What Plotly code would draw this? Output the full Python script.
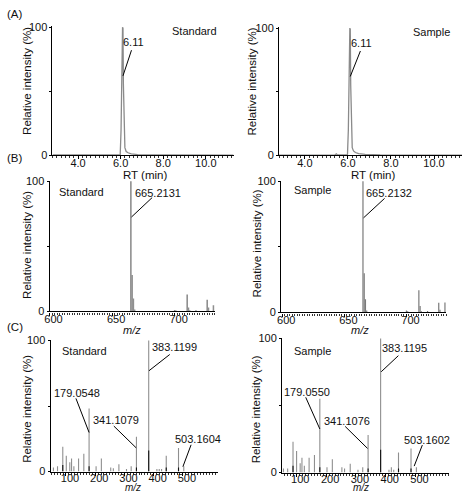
import plotly.graph_objects as go

# ---------------- data ----------------
# (A) extracted ion chromatograms
rt_std = [2.8, 4.5, 5.9, 5.98, 6.02, 6.06, 6.09, 6.11, 6.13, 6.16, 6.2, 6.26, 6.35, 6.5, 6.8, 7.5, 9.0, 11.3]
int_std = [0.3, 0.4, 0.3, 0.6, 20, 75, 100, 99, 55, 18, 6, 3, 2, 1.2, 0.6, 0.4, 0.3, 0.2]
rt_smp = [2.8, 4.5, 5.4, 5.46, 5.52, 5.9, 5.98, 6.02, 6.06, 6.09, 6.11, 6.13, 6.16, 6.2, 6.26, 6.35, 6.5, 6.8, 7.5, 9.0, 11.3]
int_smp = [0.2, 0.3, 0.3, 1.2, 0.3, 0.3, 0.6, 20, 75, 100, 99, 55, 18, 6, 3.5, 2.2, 1.3, 0.7, 0.4, 0.3, 0.2]

# (B) MS spectra (precursor region)
mz_B = [665, 666, 667, 668, 700, 701, 710, 711, 712, 717, 726, 727, 731]
std_B = [100, 28, 10, 1.5, 1.2, 0.8, 13, 3, 1, 1, 9, 3, 4.7]
smp_B = [100, 30, 10, 1.5, 1.5, 1.0, 17, 5, 1, 1.2, 7.4, 2, 7.6]

# (C) MS/MS spectra
mz_C = [57, 71, 89, 101, 113, 119, 127, 143, 161, 179, 203, 221, 253, 262, 281, 307, 323, 341, 383, 411, 419, 427, 443, 485, 503]
std_C = [3, 4, 19, 12, 7, 10, 4, 10, 13.5, 48, 4, 10, 3, 2.5, 5.5, 2, 4, 26.5, 100, 2, 2, 2, 12, 18, 4]
smp_C = [3, 3, 23, 16, 7, 11, 5, 11, 13, 55, 4, 10, 4, 3, 6.5, 2, 4, 28, 100, 2, 4, 2, 15, 18, 4]
# darker low-level overlay sticks
mz_C_dark = [89, 179, 341, 383, 443, 485]
std_C_dark = [5, 4, 3, 16, 3, 3]
smp_C_dark = [5, 4, 3, 17, 3, 3]

rt_ticks = [4, 6, 8, 10]
rt_ticktext = ["4.0", "6.0", "8.0", "10.0"]
mzB_ticks = [600, 650, 700]
mzC_ticks = [100, 200, 300, 400, 500]

FONT = "Liberation Sans, Arial, sans-serif"
W, H = 464, 500

fig = go.Figure()

def sticks(mz, inten):
    xs, ys = [], []
    for m, i in zip(mz, inten):
        xs += [m, m, None]
        ys += [0, i, None]
    return xs, ys

def add_sticks(mz, inten, n, color, width):
    xs, ys = sticks(mz, inten)
    fig.add_trace(go.Scatter(x=xs, y=ys, mode="lines", line=dict(color=color, width=width),
                             xaxis="x" + ("" if n == 1 else str(n)),
                             yaxis="y" + ("" if n == 1 else str(n)),
                             hoverinfo="skip", showlegend=False))

# A
fig.add_trace(go.Scatter(x=rt_std, y=int_std, mode="lines", line=dict(color="#8a8a8a", width=1.3),
                         xaxis="x", yaxis="y", showlegend=False))
fig.add_trace(go.Scatter(x=rt_smp, y=int_smp, mode="lines", line=dict(color="#8a8a8a", width=1.3),
                         xaxis="x2", yaxis="y2", showlegend=False))
# B
add_sticks(mz_B, std_B, 3, "#8f8f8f", 1.6)
add_sticks(mz_B, smp_B, 4, "#7a7a7a", 1.2)
# C
add_sticks(mz_C, std_C, 5, "#8f8f8f", 1.1)
add_sticks(mz_C, smp_C, 6, "#8f8f8f", 1.1)
add_sticks(mz_C_dark, std_C_dark, 5, "#111111", 1.1)
add_sticks(mz_C_dark, smp_C_dark, 6, "#111111", 1.1)

def px_dom_x(a, b):
    return [a / W, b / W]

def px_dom_y(top, bottom):
    return [1 - bottom / H, 1 - top / H]

xbase = dict(showline=True, linecolor="black", linewidth=1.2, ticks="outside", ticklen=3,
             tickcolor="black", showgrid=False, zeroline=False, ticklabelstandoff=-6,
             tickfont=dict(family=FONT, size=11, color="#111"))
ybase = dict(showline=True, linecolor="black", linewidth=1, ticks="outside", ticklen=2,
             tickcolor="black", showgrid=False, zeroline=False, range=[0, 100.5],
             tickvals=[0, 50, 100], ticktext=["0", "", "100"],
             tickfont=dict(family=FONT, size=11, color="#111"))

def xa(dom, rng, anchor, tickvals, ticktext, mdt, shift=0, standoff=-6):
    d = dict(xbase)
    d.update(domain=dom, range=rng, anchor=anchor, tickvals=tickvals, ticktext=ticktext,
             ticklabelstandoff=standoff,
             minor=dict(ticks="outside", ticklen=2, dtick=mdt, tickcolor="#333"))
    if shift:
        d["ticklabelshift"] = shift
    return d

def ya(dom, anchor):
    d = dict(ybase)
    d.update(domain=dom, anchor=anchor)
    return d

layout = dict(
    width=W, height=H, margin=dict(l=0, r=0, t=0, b=0),
    paper_bgcolor="white", plot_bgcolor="white", showlegend=False,
    font=dict(family=FONT, size=11, color="#111"),
    xaxis=xa(px_dom_x(48, 231), [2.8, 11.3], "y", rt_ticks, rt_ticktext, 0.2),
    yaxis=ya(px_dom_y(21, 153), "x"),
    xaxis2=xa(px_dom_x(277, 462), [2.8, 11.3], "y2", rt_ticks, rt_ticktext, 0.2),
    yaxis2=ya(px_dom_y(22, 153), "x2"),
    xaxis3=xa(px_dom_x(45, 212), [600, 732], "y3", mzB_ticks, [str(v) for v in mzB_ticks], 2, 4),
    yaxis3=ya(px_dom_y(179, 313), "x3"),
    xaxis4=xa(px_dom_x(279, 446), [599, 732], "y4", mzB_ticks, [str(v) for v in mzB_ticks], 2, 4),
    yaxis4=ya(px_dom_y(179, 314), "x4"),
    xaxis5=xa(px_dom_x(46, 215), [47, 619], "y5", mzC_ticks, [str(v) for v in mzC_ticks], 10, 4, -7),
    yaxis5=ya(px_dom_y(342, 477), "x5"),
    xaxis6=xa(px_dom_x(280, 449), [52, 613], "y6", mzC_ticks, [str(v) for v in mzC_ticks], 10, 4, -7),
    yaxis6=ya(px_dom_y(340, 478), "x6"),
)
fig.update_layout(**layout)

ann = []
shapes = []

def txt(n, x, y, s, size=11):
    sfx = "" if n == 1 else str(n)
    ann.append(dict(xref="x" + sfx, yref="y" + sfx, x=x, y=y, text=s, showarrow=False,
                    xanchor="center", yanchor="middle", font=dict(family=FONT, size=size, color="#111")))

def lead(n, x0, y0, x1, y1):
    sfx = "" if n == 1 else str(n)
    shapes.append(dict(type="line", xref="x" + sfx, yref="y" + sfx, x0=x0, y0=y0, x1=x1, y1=y1,
                       line=dict(color="black", width=1)))

def paper(xp, yp, s, angle=0, anchor="center", size=11.5, yanchor="middle", pad=1):
    ann.append(dict(xref="paper", yref="paper", x=xp / W, y=1 - yp / H, text=s, showarrow=False,
                    textangle=angle, xanchor=anchor, yanchor=yanchor, borderpad=pad,
                    font=dict(family=FONT, size=size, color="#111")))

# A
txt(1, 6.6, 88.6, "6.11"); lead(1, 6.51, 82, 6.11, 62); txt(1, 9.49, 97, "Standard")
txt(2, 6.65, 88.6, "6.11"); lead(2, 6.58, 82, 6.11, 62); txt(2, 9.9, 97, "Sample")
# B
txt(3, 625.4, 92, "Standard"); txt(3, 686.5, 91, "665.2131"); lead(3, 682, 87.5, 665.5, 72.6)
txt(4, 624.7, 93.3, "Sample"); txt(4, 685.8, 91.3, "665.2132"); lead(4, 682.4, 87, 665.5, 72.2)
# C left
txt(5, 162, 91.8, "Standard")
txt(5, 472, 94.8, "383.1199"); lead(5, 455, 89.3, 384, 76.9)
txt(5, 136, 60, "179.0548"); lead(5, 134, 55.8, 179, 29.8)
txt(5, 271, 39, "341.1079"); lead(5, 263.6, 34.7, 340, 18.1)
txt(5, 551, 24.8, "503.1604"); lead(5, 528, 20.4, 500, 3.7)
# C right
txt(6, 153.5, 90.4, "Sample")
txt(6, 464, 92.8, "383.1195"); lead(6, 442.6, 87.2, 385, 75.2)
txt(6, 137, 60.2, "179.0550"); lead(6, 131.7, 56.1, 179, 32.5)
txt(6, 271, 38.5, "341.1076"); lead(6, 264, 34.4, 339, 18)
txt(6, 540, 24, "503.1602"); lead(6, 523, 20.5, 495.6, 4.8)

# panel labels
paper(0, 8, "(A)", anchor="left")
paper(0, 156, "(B)", anchor="left")
paper(0, 329, "(C)", anchor="left")

# axis titles
yt = "Relative intensity (%)"
paper(22, 77, yt, angle=-90)
paper(250, 77, yt, angle=-90)
paper(22, 245, yt, angle=-90)
paper(255, 243, yt, angle=-90)
paper(22, 413, yt, angle=-90)
paper(254, 413, yt, angle=-90)
paper(142, 173, "RT (min)")
paper(372, 173, "RT (min)")
paper(128, 332, "<i>m/z</i>", size=11)
paper(359, 332, "<i>m/z</i>", size=11)
paper(129, 500, "<i>m/z</i>", size=10, yanchor="bottom", pad=0)
paper(360, 500, "<i>m/z</i>", size=10, yanchor="bottom", pad=0)

fig.update_layout(annotations=ann, shapes=shapes)
fig.write_html("out.html", config={"displayModeBar": False},
               post_script="document.body.style.margin='0px';document.body.style.overflow='hidden';")
